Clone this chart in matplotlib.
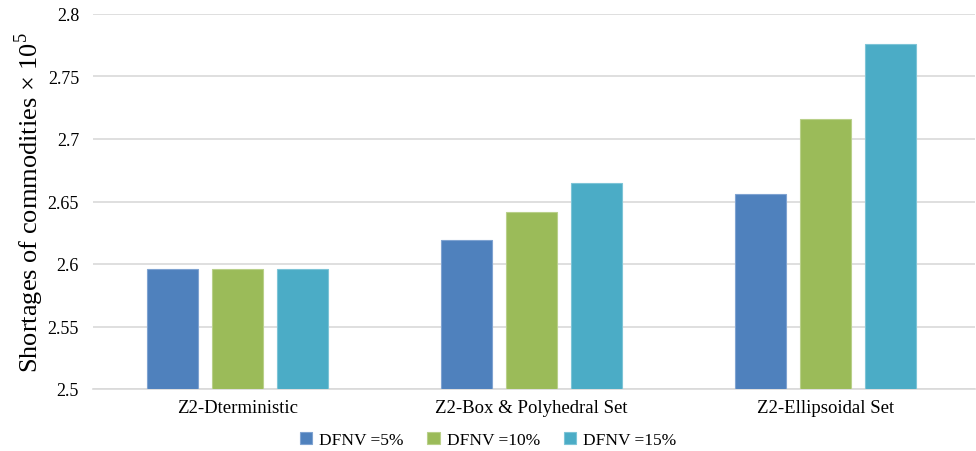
import numpy as np
import matplotlib.pyplot as plt

plt.rcParams['font.family'] = ['Liberation Serif', 'DejaVu Serif']
plt.rcParams['mathtext.fontset'] = 'custom'
plt.rcParams['mathtext.rm'] = 'Liberation Serif'

categories = ["Z2-Dterministic", "Z2-Box & Polyhedral Set", "Z2-Ellipsoidal Set"]
series_names = ["DFNV =5%", "DFNV =10%", "DFNV =15%"]
dfnv_5 = [2.596, 2.619, 2.656]
dfnv_10 = [2.596, 2.642, 2.716]
dfnv_15 = [2.596, 2.665, 2.776]
colors = ["#4F81BD", "#9BBB59", "#4BACC6"]
edges = ["#7FA3D1", "#B9D08A", "#7DC4D7"]
yticks = [2.5, 2.55, 2.6, 2.65, 2.7, 2.75, 2.8]
ytick_labels = ["2.5", "2.55", "2.6", "2.65", "2.7", "2.75", "2.8"]

fig = plt.figure(figsize=(9.76, 4.52), dpi=100)
ax = fig.add_axes([93 / 976, 1 - 390 / 452, 882 / 976, 375 / 452])

x = np.arange(len(categories))
width = 0.173
step = 0.221
for i, (vals, name) in enumerate(zip([dfnv_5, dfnv_10, dfnv_15], series_names)):
    ax.bar(x + (i - 1) * step, np.array(vals) - 2.5, width, bottom=2.5,
           color=colors[i], edgecolor=edges[i], linewidth=0.8, label=name, zorder=3)

ax.set_xlim(-0.4915, 2.5085)
ax.set_ylim(2.5, 2.8)
ax.set_yticks(yticks)
ax.set_yticklabels(ytick_labels, fontsize=13)
ax.set_xticks(x)
ax.set_xticklabels(categories, fontsize=13.5)
ax.tick_params(axis='both', length=0, colors="#000000")
ax.tick_params(axis='y', pad=10)
ax.tick_params(axis='x', pad=7)
ax.grid(axis='y', color="#D9D9D9", linewidth=1.2, zorder=0)
for s in ["top", "right", "left"]:
    ax.spines[s].set_visible(False)
ax.spines["bottom"].set_color("#D9D9D9")
ax.spines["bottom"].set_linewidth(1.2)

ax.set_ylabel("Shortages of commodities \u00d7 10$^5$", fontsize=19, labelpad=1)

fig.legend(loc="lower center", bbox_to_anchor=(0.5, -0.028), ncol=3, frameon=False,
           fontsize=12.5, handlelength=0.7, handleheight=0.7, handletextpad=0.4,
           columnspacing=1.4)

fig.savefig("out.png", dpi=100)
